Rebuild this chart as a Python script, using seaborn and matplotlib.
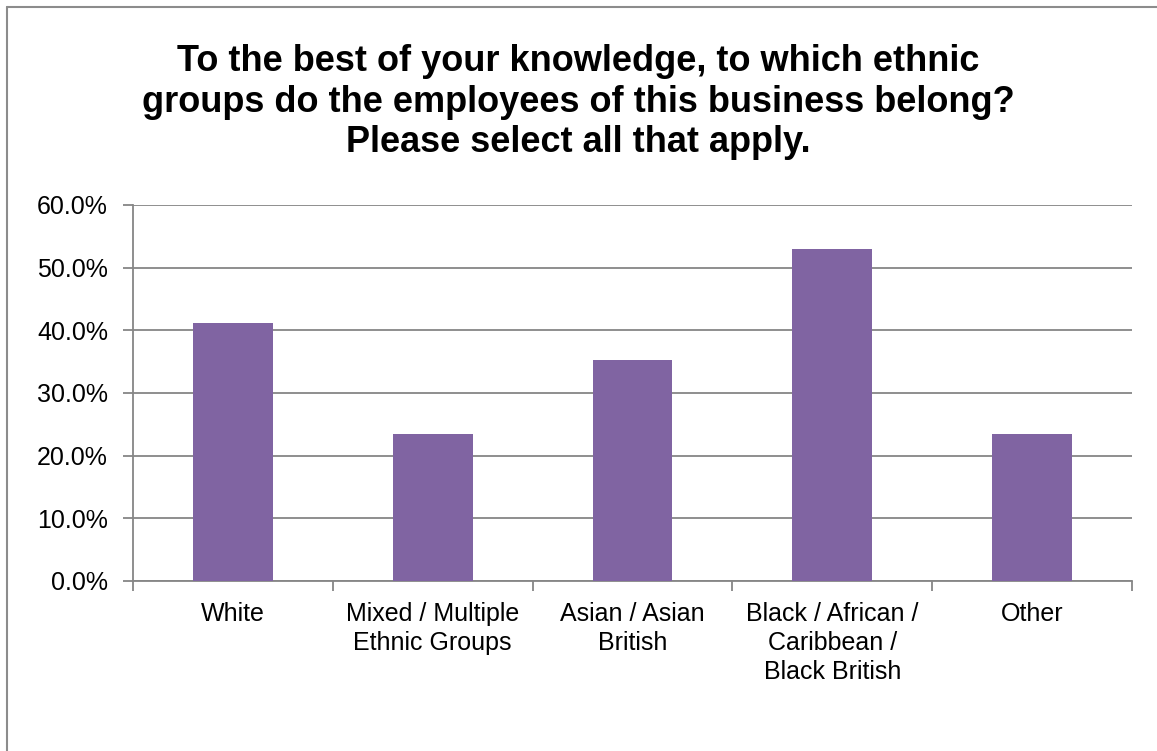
import matplotlib
matplotlib.use("Agg")
import matplotlib.pyplot as plt
import seaborn as sns
import pandas as pd
from matplotlib.ticker import FuncFormatter, FixedLocator

categories = [
    "White",
    "Mixed / Multiple\nEthnic Groups",
    "Asian / Asian\nBritish",
    "Black / African /\nCaribbean /\nBlack British",
    "Other",
]
shares = [41.18, 23.53, 35.29, 52.94, 23.53]
title = ("To the best of your knowledge, to which ethnic\n"
         "groups do the employees of this business belong?\n"
         "Please select all that apply.")

sns.set_theme(style="white")
plt.rcParams["font.family"] = ["Liberation Sans", "DejaVu Sans"]

grid_col = "#868686"
bar_col = "#8064A2"

df = pd.DataFrame({"group": categories, "share": shares})

fig = plt.figure(figsize=(11.57, 7.51), dpi=100)
ax = fig.add_axes([133 / 1157, 1 - 581 / 751, (1132 - 133) / 1157, (581 - 205) / 751])

sns.barplot(data=df, x="group", y="share", color=bar_col, width=0.4,
            saturation=1, linewidth=0, ax=ax, zorder=3)

ax.set_ylim(0, 60)
ax.set_xlim(-0.5, len(categories) - 0.5)
ax.set_yticks(range(0, 61, 10))
ax.yaxis.set_major_formatter(FuncFormatter(lambda v, _: f"{v:.1f}%"))
ax.yaxis.grid(True, color=grid_col, linewidth=1.3, zorder=0)
ax.set_xlabel("")
ax.set_ylabel("")

for s in ["top", "right"]:
    ax.spines[s].set_visible(False)
for s in ["left", "bottom"]:
    ax.spines[s].set_color(grid_col)
    ax.spines[s].set_linewidth(1.3)

# category labels centred under bars, ticks at category boundaries
ax.set_xticks(range(len(categories)))
ax.set_xticklabels(categories, fontsize=18, color="black", linespacing=1.27)
ax.tick_params(axis="x", which="major", length=0, pad=15)
ax.xaxis.set_minor_locator(FixedLocator([i - 0.5 for i in range(len(categories) + 1)]))
ax.tick_params(axis="x", which="minor", bottom=True, length=7, width=1.3, color=grid_col)
ax.tick_params(axis="y", left=True, length=7, width=1.3, color=grid_col,
               labelsize=18, labelcolor="black", pad=11)

fig.text(0.5, 1 - 102 / 751, title, ha="center", va="center", color="black",
         fontsize=26, fontweight="bold", linespacing=1.19)

# outer chart frame (top and left edges)
fig.add_artist(plt.Line2D([7 / 1157, 1], [1 - 7 / 751, 1 - 7 / 751],
                          transform=fig.transFigure, color="#8c8c8c", linewidth=1.5))
fig.add_artist(plt.Line2D([7 / 1157, 7 / 1157], [0, 1 - 7 / 751],
                          transform=fig.transFigure, color="#8c8c8c", linewidth=1.5))

fig.savefig("out.png", dpi=100)
